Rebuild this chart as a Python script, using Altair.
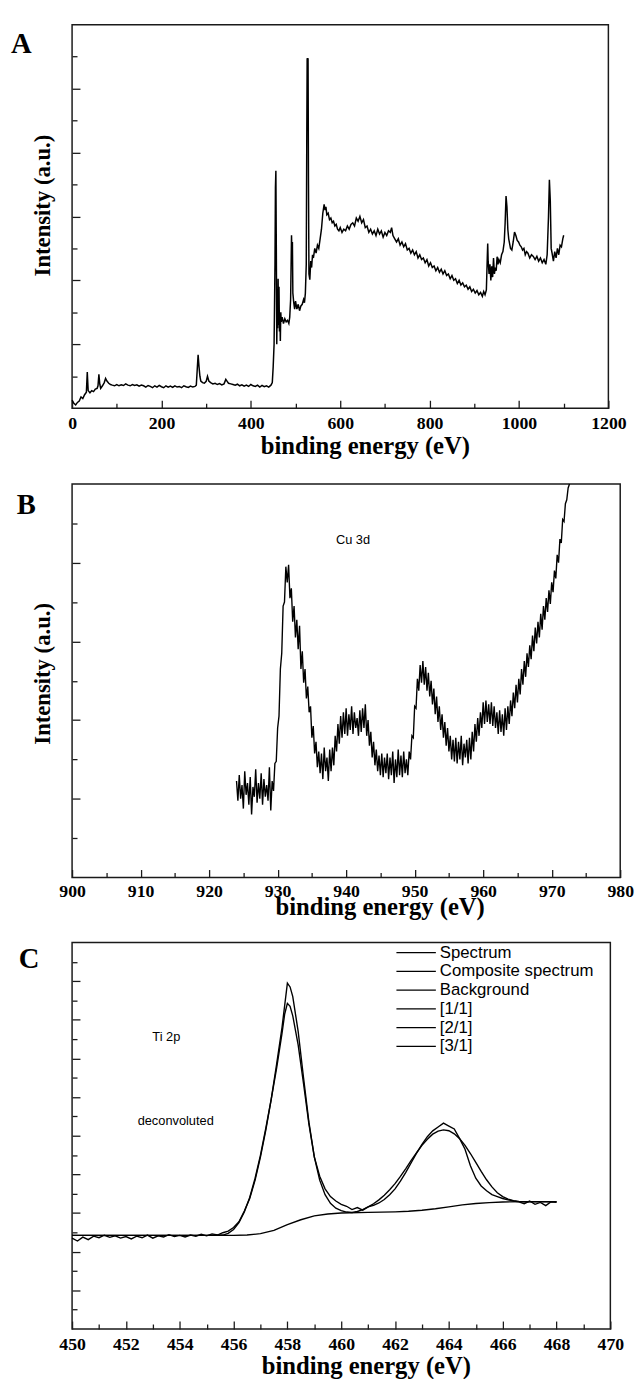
import altair as alt
import pandas as pd

INK = "#1a1a1a"
SERIF = "Liberation Serif"
SANS = "Liberation Sans"

# ---------------- Panel A : survey spectrum ----------------
a_energy = [
    0, 4, 8, 12, 16, 20, 24, 28, 32, 34,
    36, 40, 44, 48, 52, 56, 58, 60, 62, 64,
    68, 72, 75, 78, 82, 86, 90, 95, 100, 105,
    110, 115, 120, 125, 130, 135, 140, 145, 150, 155,
    160, 165, 170, 175, 180, 185, 190, 195, 200, 205,
    210, 215, 220, 225, 230, 235, 240, 245, 250, 255,
    260, 265, 270, 275, 278, 280, 282, 284, 286, 288,
    292, 296, 300, 303, 306, 310, 315, 320, 325, 330,
    335, 340, 344, 347, 350, 355, 360, 365, 370, 375,
    380, 385, 390, 395, 400, 405, 410, 415, 420, 425,
    430, 435, 440, 445, 448, 450, 452, 454, 455, 456,
    457, 458, 459, 460, 461, 462, 463, 464, 465, 466,
    467, 468, 470, 473, 476, 479, 482, 485, 487, 489,
    491, 492, 493, 494, 496, 498, 500, 503, 506, 509,
    512, 515, 518, 520, 522, 524, 525, 526, 527, 528,
    529, 530, 532, 534, 536, 538, 540, 543, 546, 549,
    552, 555, 558, 561, 564, 566, 568, 570, 573, 576,
    579, 582, 585, 588, 591, 594, 597, 600, 604, 608,
    612, 616, 620, 624, 628, 632, 636, 640, 644, 648,
    652, 656, 660, 664, 668, 672, 676, 680, 684, 688,
    692, 696, 700, 704, 708, 712, 715, 718, 722, 726,
    730, 734, 738, 742, 746, 750, 754, 758, 762, 766,
    770, 774, 778, 782, 786, 790, 794, 798, 802, 806,
    810, 814, 818, 822, 826, 830, 834, 838, 842, 846,
    850, 854, 858, 862, 866, 870, 874, 878, 882, 886,
    890, 894, 898, 902, 906, 910, 914, 918, 921, 924,
    927, 929, 930, 931, 933, 935, 937, 939, 941, 943,
    945, 947, 949, 951, 953, 955, 958, 961, 964, 967,
    969, 971, 973, 975, 977, 979, 981, 984, 987, 990,
    993, 996, 999, 1002, 1005, 1008, 1011, 1014, 1017, 1020,
    1024, 1028, 1032, 1036, 1040, 1044, 1048, 1052, 1056, 1060,
    1063, 1066, 1068, 1070, 1072, 1074, 1077, 1080, 1083, 1086,
    1089, 1092, 1095, 1098, 1100,
]
a_intensity = [
    0.25, 0.15, 0.10, 0.18, 0.22, 0.35, 0.30, 0.42, 0.50, 1.13,
    0.55, 0.48, 0.55, 0.52, 0.60, 0.62, 0.70, 1.06, 0.75, 0.62,
    0.70, 0.80, 0.93, 0.85, 0.78, 0.74, 0.72, 0.70, 0.74, 0.70,
    0.73, 0.71, 0.76, 0.72, 0.70, 0.74, 0.71, 0.73, 0.69, 0.72,
    0.70, 0.66, 0.71, 0.68, 0.64, 0.70, 0.66, 0.71, 0.67, 0.64,
    0.70, 0.66, 0.69, 0.65, 0.70, 0.66, 0.68, 0.64, 0.70, 0.67,
    0.65, 0.69, 0.66, 0.68, 0.72, 1.20, 1.67, 1.30, 1.00, 0.85,
    0.80, 0.78, 0.84, 1.00, 0.85, 0.80, 0.76, 0.78, 0.74, 0.77,
    0.73, 0.76, 0.90, 0.84, 0.78, 0.76, 0.74, 0.72, 0.75, 0.70,
    0.73, 0.69, 0.72, 0.68, 0.74, 0.70, 0.68, 0.72, 0.66, 0.71,
    0.67, 0.70, 0.66, 0.72, 0.80, 1.30, 2.00, 4.50, 6.90, 7.43,
    5.00, 2.00, 3.20, 2.50, 4.05, 2.60, 3.80, 2.40, 2.90, 2.10,
    3.00, 2.70, 2.85, 2.65, 2.80, 2.70, 2.75, 2.65, 2.85, 3.40,
    5.41, 4.80, 5.20, 3.60, 3.30, 3.10, 3.35, 3.10, 3.25, 3.05,
    3.20, 3.25, 3.40, 3.30, 3.60, 4.50, 8.00, 10.95, 10.90, 10.95,
    7.00, 4.20, 4.02, 4.60, 4.40, 4.80, 4.70, 5.00, 4.85, 5.10,
    5.00, 5.30, 5.60, 6.10, 6.38, 6.20, 6.30, 6.05, 6.10, 5.90,
    5.95, 5.80, 5.85, 5.70, 5.75, 5.60, 5.55, 5.65, 5.50, 5.60,
    5.55, 5.70, 5.60, 5.75, 5.80, 5.70, 5.95, 5.85, 6.00, 5.80,
    5.90, 5.65, 5.70, 5.50, 5.60, 5.45, 5.55, 5.40, 5.60, 5.45,
    5.55, 5.35, 5.50, 5.40, 5.55, 5.50, 5.65, 5.40, 5.30, 5.20,
    5.30, 5.10, 5.20, 5.05, 5.15, 4.95, 5.00, 4.85, 4.95, 4.80,
    4.90, 4.70, 4.80, 4.65, 4.70, 4.55, 4.65, 4.45, 4.55, 4.40,
    4.45, 4.30, 4.40, 4.25, 4.35, 4.20, 4.30, 4.15, 4.20, 4.05,
    4.15, 4.00, 4.05, 3.90, 4.00, 3.85, 3.92, 3.80, 3.85, 3.72,
    3.80, 3.65, 3.72, 3.60, 3.68, 3.55, 3.62, 3.50, 3.65, 3.55,
    3.70, 4.70, 5.15, 4.60, 4.20, 4.50, 4.00, 4.44, 4.10, 4.70,
    4.20, 4.40, 4.30, 4.74, 4.50, 4.65, 4.55, 4.80, 4.90, 5.20,
    5.80, 6.64, 6.30, 5.60, 5.30, 5.15, 5.00, 4.95, 5.20, 5.51,
    5.40, 5.25, 5.20, 5.10, 5.05, 4.95, 5.00, 4.80, 4.90, 4.85,
    4.70, 4.80, 4.75, 4.65, 4.75, 4.60, 4.70, 4.55, 4.65, 4.50,
    4.80, 6.00, 7.15, 6.50, 5.00, 4.85, 4.60, 4.90, 4.70, 5.00,
    4.80, 5.10, 5.05, 5.30, 5.41,
]
a_x_domain = [0, 1200]
a_y_domain = [0, 12]
a_x_major = [0, 200, 400, 600, 800, 1000, 1200]
a_x_minor = [100, 300, 500, 700, 900, 1100]
a_y_major = [2, 4, 6, 8, 10]
a_y_minor = [1, 3, 5, 7, 9, 11]

# ---------------- Panel B : Cu region ----------------
b_energy = [
    924.0, 924.2, 924.4, 924.6, 924.8, 925.0, 925.2, 925.4, 925.6, 925.8,
    926.0, 926.2, 926.4, 926.6, 926.8, 927.0, 927.2, 927.4, 927.6, 927.8,
    928.0, 928.2, 928.4, 928.6, 928.8, 929.0, 929.2, 929.4, 929.6, 929.8,
    930.0, 930.2, 930.4, 930.6, 930.8, 931.0, 931.2, 931.4, 931.6, 931.8,
    932.0, 932.2, 932.4, 932.6, 932.8, 933.0, 933.2, 933.4, 933.6, 933.8,
    934.0, 934.2, 934.4, 934.6, 934.8, 935.0, 935.2, 935.4, 935.6, 935.8,
    936.0, 936.2, 936.4, 936.6, 936.8, 937.0, 937.2, 937.4, 937.6, 937.8,
    938.0, 938.2, 938.4, 938.6, 938.8, 939.0, 939.2, 939.4, 939.6, 939.8,
    940.0, 940.2, 940.4, 940.6, 940.8, 941.0, 941.2, 941.4, 941.6, 941.8,
    942.0, 942.2, 942.4, 942.6, 942.8, 943.0, 943.2, 943.4, 943.6, 943.8,
    944.0, 944.2, 944.4, 944.6, 944.8, 945.0, 945.2, 945.4, 945.6, 945.8,
    946.0, 946.2, 946.4, 946.6, 946.8, 947.0, 947.2, 947.4, 947.6, 947.8,
    948.0, 948.2, 948.4, 948.6, 948.8, 949.0, 949.2, 949.4, 949.6, 949.8,
    950.0, 950.2, 950.4, 950.6, 950.8, 951.0, 951.2, 951.4, 951.6, 951.8,
    952.0, 952.2, 952.4, 952.6, 952.8, 953.0, 953.2, 953.4, 953.6, 953.8,
    954.0, 954.2, 954.4, 954.6, 954.8, 955.0, 955.2, 955.4, 955.6, 955.8,
    956.0, 956.2, 956.4, 956.6, 956.8, 957.0, 957.2, 957.4, 957.6, 957.8,
    958.0, 958.2, 958.4, 958.6, 958.8, 959.0, 959.2, 959.4, 959.6, 959.8,
    960.0, 960.2, 960.4, 960.6, 960.8, 961.0, 961.2, 961.4, 961.6, 961.8,
    962.0, 962.2, 962.4, 962.6, 962.8, 963.0, 963.2, 963.4, 963.6, 963.8,
    964.0, 964.2, 964.4, 964.6, 964.8, 965.0, 965.2, 965.4, 965.6, 965.8,
    966.0, 966.2, 966.4, 966.6, 966.8, 967.0, 967.2, 967.4, 967.6, 967.8,
    968.0, 968.2, 968.4, 968.6, 968.8, 969.0, 969.2, 969.4, 969.6, 969.8,
    970.0, 970.2, 970.4, 970.6, 970.8, 971.0, 971.2, 971.4, 971.6, 971.8,
    972.0, 972.2, 972.4, 972.6,
]
b_intensity = [
    2.45, 1.95, 2.60, 2.00, 2.35, 1.75, 2.70, 2.10, 2.40, 1.85,
    2.55, 1.60, 2.30, 2.05, 2.75, 1.90, 2.40, 2.00, 2.65, 1.85,
    2.50, 2.05, 2.35, 1.95, 2.80, 1.70, 2.45, 2.20, 2.90, 2.95,
    3.80, 4.10, 5.30, 5.70, 6.90, 7.00, 7.90, 7.50, 7.95, 7.10,
    7.35, 6.50, 6.90, 6.10, 6.55, 5.80, 6.40, 5.30, 5.75, 4.95,
    5.30, 4.55, 4.85, 4.20, 4.35, 3.55, 3.85, 3.15, 3.45, 2.80,
    3.20, 2.65, 3.15, 2.50, 3.30, 2.70, 3.05, 2.45, 3.25, 2.70,
    3.30, 2.85, 3.60, 3.20, 3.90, 3.40, 4.10, 3.55, 4.20, 3.65,
    4.30, 3.60, 4.15, 3.75, 4.35, 3.65, 4.20, 3.80, 4.05, 3.60,
    4.25, 3.70, 4.30, 3.80, 4.40, 3.60, 4.00, 3.35, 3.70, 3.05,
    3.45, 2.85, 3.25, 2.70, 3.10, 2.60, 3.15, 2.55, 3.05, 2.65,
    3.15, 2.50, 3.05, 2.60, 3.20, 2.40, 3.00, 2.55, 3.25, 2.60,
    3.10, 2.55, 3.20, 2.65, 3.00, 2.60, 3.20, 3.00, 3.60, 3.55,
    4.35, 4.30, 5.05, 4.75, 5.40, 4.95, 5.50, 4.90, 5.35, 4.75,
    5.20, 4.60, 5.00, 4.40, 4.80, 4.15, 4.60, 3.95, 4.35, 3.75,
    4.15, 3.55, 3.95, 3.35, 3.80, 3.20, 3.60, 3.00, 3.50, 2.95,
    3.55, 2.90, 3.45, 3.00, 3.60, 2.85, 3.40, 3.05, 3.50, 2.90,
    3.55, 3.00, 3.70, 3.20, 3.90, 3.45, 4.05, 3.60, 4.20, 3.80,
    4.45, 3.90, 4.50, 3.95, 4.40, 3.90, 4.45, 3.85, 4.35, 3.80,
    4.20, 3.65, 4.25, 3.70, 4.15, 3.60, 4.30, 3.75, 4.35, 3.90,
    4.50, 4.10, 4.70, 4.30, 4.90, 4.45, 5.05, 4.65, 5.30, 4.90,
    5.50, 5.10, 5.70, 5.35, 5.90, 5.55, 6.15, 5.75, 6.35, 5.95,
    6.50, 6.10, 6.70, 6.30, 6.90, 6.55, 7.10, 6.75, 7.30, 6.95,
    7.50, 7.25, 7.80, 7.60, 8.20, 8.00, 8.60, 8.50, 9.10, 9.05,
    9.50, 9.60, 9.90, 10.00,
]
b_x_domain = [900, 980]
b_y_domain = [0, 10]
b_x_major = [900, 910, 920, 930, 940, 950, 960, 970, 980]
b_x_minor = [905, 915, 925, 935, 945, 955, 965, 975]
b_y_major = [2, 4, 6, 8]
b_y_minor = [1, 3, 5, 7, 9]
b_note_energy = [941.0]
b_note_intensity = [8.58]
b_note_text = ["Cu 3d"]

# ---------------- Panel C : Ti 2p deconvolution ----------------
c_series_names = ["Spectrum", "Composite spectrum", "Background", "[1/1]", "[2/1]", "[3/1]"]

c_spec_energy = [
    450.0, 450.2, 450.4, 450.6, 450.8, 451.0, 451.2, 451.4, 451.6, 451.8,
    452.0, 452.2, 452.4, 452.6, 452.8, 453.0, 453.2, 453.4, 453.6, 453.8,
    454.0, 454.2, 454.4, 454.6, 454.8, 455.0, 455.2, 455.4, 455.6, 455.8,
    456.0, 456.2, 456.4, 456.6, 456.8, 457.0, 457.2, 457.4, 457.6, 457.8,
    458.0, 458.1, 458.2, 458.4, 458.6, 458.8, 459.0, 459.2, 459.4, 459.6,
    459.8, 460.0, 460.2, 460.4, 460.6, 460.8, 461.0, 461.2, 461.4, 461.6,
    461.8, 462.0, 462.2, 462.4, 462.6, 462.8, 463.0, 463.2, 463.4, 463.6,
    463.8, 464.0, 464.2, 464.4, 464.6, 464.8, 465.0, 465.2, 465.4, 465.6,
    465.8, 466.0, 466.2, 466.4, 466.6, 466.8, 467.0, 467.2, 467.4, 467.6,
    467.8, 468.0,
]
c_spec_intensity = [
    4.70, 4.55, 4.75, 4.62, 4.80, 4.72, 4.85, 4.74, 4.82, 4.70,
    4.78, 4.66, 4.80, 4.72, 4.86, 4.70, 4.82, 4.76, 4.88, 4.78,
    4.84, 4.76, 4.86, 4.80, 4.90, 4.82, 4.92, 4.86, 4.98, 5.06,
    5.25, 5.55, 6.10, 6.75, 7.70, 8.90, 10.30, 11.90, 13.70, 15.60,
    17.90, 17.70, 17.20, 15.40, 13.00, 10.70, 8.90, 7.90, 7.25, 6.85,
    6.62, 6.45, 6.35, 6.18, 6.28, 6.15, 6.32, 6.40, 6.52, 6.70,
    6.95, 7.25, 7.65, 8.10, 8.60, 9.10, 9.55, 9.95, 10.25, 10.45,
    10.65, 10.50, 10.35, 9.85, 9.30, 8.45, 7.80, 7.40, 7.15, 6.95,
    6.85, 6.75, 6.68, 6.62, 6.58, 6.48, 6.62, 6.45, 6.55, 6.38,
    6.58, 6.55,
]
c_comp_energy = [
    450.0, 455.0, 455.6, 455.8, 456.0, 456.2, 456.4, 456.6, 456.8, 457.0,
    457.2, 457.4, 457.6, 457.8, 457.9, 458.0, 458.1, 458.2, 458.4, 458.6,
    458.8, 459.0, 459.2, 459.4, 459.6, 459.8, 460.0, 460.2, 460.4, 460.6,
    460.8, 461.0, 461.2, 461.4, 461.6, 461.8, 462.0, 462.2, 462.4, 462.6,
    462.8, 463.0, 463.2, 463.4, 463.6, 463.8, 464.0, 464.2, 464.4, 464.6,
    464.8, 465.0, 465.2, 465.4, 465.6, 465.8, 466.0, 466.2, 466.4, 466.6,
    466.8, 467.0, 468.0,
]
c_comp_intensity = [
    4.84, 4.84, 4.86, 4.95, 5.15, 5.50, 6.05, 6.80, 7.80, 9.00,
    10.40, 11.90, 13.50, 15.30, 16.30, 16.85, 16.70, 16.20, 14.70, 12.70,
    10.60, 8.90, 7.70, 6.95, 6.50, 6.25, 6.12, 6.05, 6.03, 6.08,
    6.18, 6.32, 6.48, 6.68, 6.92, 7.20, 7.52, 7.90, 8.30, 8.72,
    9.12, 9.50, 9.82, 10.08, 10.24, 10.30, 10.26, 10.10, 9.85, 9.50,
    9.08, 8.62, 8.15, 7.72, 7.35, 7.05, 6.85, 6.72, 6.64, 6.60,
    6.58, 6.58, 6.58,
]
c_bg_energy = [
    450.0, 456.0, 456.5, 457.0, 457.5, 458.0, 458.5, 459.0, 459.5, 460.0,
    461.0, 462.0, 462.5, 463.0, 463.5, 464.0, 464.5, 465.0, 465.5, 466.0,
    467.0, 468.0,
]
c_bg_intensity = [
    4.84, 4.84, 4.86, 4.93, 5.10, 5.40, 5.65, 5.85, 5.95, 6.00,
    6.03, 6.06, 6.09, 6.14, 6.22, 6.32, 6.42, 6.49, 6.54, 6.57,
    6.59, 6.59,
]
c_x_domain = [450, 470]
c_y_domain = [0, 20]
c_x_major = [450, 452, 454, 456, 458, 460, 462, 464, 466, 468, 470]
c_x_minor = [451, 453, 455, 457, 459, 461, 463, 465, 467, 469]
c_y_major = [2, 4, 6, 8, 10, 12, 14, 16, 18]
c_y_minor = [1, 3, 5, 7, 9, 11, 13, 15, 17, 19]
c_note_energy = [453.5, 453.85]
c_note_intensity = [15.12, 10.76]
c_note_text = ["Ti 2p", "deconvoluted"]

assert len(a_energy) == len(a_intensity)
assert len(b_energy) == len(b_intensity)
assert len(c_spec_energy) == len(c_spec_intensity)
assert len(c_comp_energy) == len(c_comp_intensity)
assert len(c_bg_energy) == len(c_bg_intensity)

X_TITLE_SIZE = 25
Y_TITLE_SIZE = 23
LABEL_SIZE = 18


def lin(dom):
    return alt.Scale(domain=dom, nice=False, zero=False)


def x_main(dom, values, title_x, title_y, label_pad=7):
    return alt.X("energy:Q", scale=lin(dom), axis=alt.Axis(
        orient="bottom", values=values, format="d", ticks=False, tickSize=0,
        domain=False, grid=False, labelFont=SERIF, labelFontWeight="bold",
        labelFontSize=LABEL_SIZE, labelColor="black", labelPadding=label_pad,
        labelFlush=False, labelOverlap=False, title="binding energy (eV)",
        titleFont=SERIF, titleFontWeight="bold", titleFontSize=X_TITLE_SIZE,
        titleColor="black", titleX=title_x, titleY=title_y, titleAlign="center",
        titleBaseline="alphabetic"))


def y_main(dom, title=None, title_y=None):
    if title:
        ax = alt.Axis(orient="left", labels=False, ticks=False, tickSize=0,
                      domain=False, grid=False, title=title, titleFont=SERIF,
                      titleFontWeight="bold", titleFontSize=Y_TITLE_SIZE,
                      titleColor="black", titlePadding=18, titleY=title_y)
    else:
        ax = alt.Axis(orient="left", labels=False, ticks=False, tickSize=0,
                      domain=False, grid=False, title=None)
    return alt.Y("intensity:Q", scale=lin(dom), axis=ax)


def tick_layer(df, xdom, ydom, xvals, yvals, size, w, h):
    return alt.Chart(df).mark_point(opacity=0, size=1).encode(
        x=alt.X("energy:Q", scale=lin(xdom), axis=alt.Axis(
            orient="top", offset=-h, values=xvals, tickSize=size, tickWidth=1.3,
            tickColor=INK, labels=False, domain=False, grid=False, title=None)),
        y=alt.Y("intensity:Q", scale=lin(ydom), axis=alt.Axis(
            orient="right", offset=-w, values=yvals, tickSize=size, tickWidth=1.3,
            tickColor=INK, labels=False, domain=False, grid=False, title=None)),
    )


def letter_layer(letter, px, py):
    return alt.Chart(pd.DataFrame({"letter": [letter]})).mark_text(
        font=SERIF, fontWeight="bold", fontSize=29, align="left",
        baseline="alphabetic", color="black").encode(
        x=alt.value(px), y=alt.value(py), text="letter:N")


def note_layer(energy, intensity, text, xdom, ydom):
    df = pd.DataFrame({"energy": energy, "intensity": intensity, "label": text})
    return alt.Chart(df).mark_text(font=SANS, fontSize=13, color="black").encode(
        x=alt.X("energy:Q", scale=lin(xdom), axis=None),
        y=alt.Y("intensity:Q", scale=lin(ydom), axis=None),
        text="label:N")


# ---- Panel A ----
A_W, A_H = 544, 389
df_a = pd.DataFrame({"energy": a_energy, "intensity": a_intensity})
line_a = alt.Chart(df_a).mark_line(color="black", strokeWidth=1.5).encode(
    x=x_main(a_x_domain, a_x_major, 297, 46),
    y=y_main(a_y_domain, "Intensity (a.u.)", 183))
panel_a = alt.layer(
    line_a,
    tick_layer(df_a, a_x_domain, a_y_domain, a_x_major, a_y_major, 8, A_W, A_H),
    tick_layer(df_a, a_x_domain, a_y_domain, a_x_minor, a_y_minor, 5, A_W, A_H),
    letter_layer("A", -62, 29),
).resolve_axis(x="independent", y="independent").properties(width=A_W, height=A_H)

# ---- Panel B ----
B_W, B_H = 556, 399
df_b = pd.DataFrame({"energy": b_energy, "intensity": b_intensity})
line_b = alt.Chart(df_b).mark_line(color="black", strokeWidth=1.4).encode(
    x=x_main(b_x_domain, b_x_major, 312, 38, label_pad=5),
    y=y_main(b_y_domain, "Intensity (a.u.)", 192))
panel_b = alt.layer(
    line_b,
    tick_layer(df_b, b_x_domain, b_y_domain, b_x_major, b_y_major, 8, B_W, B_H),
    tick_layer(df_b, b_x_domain, b_y_domain, b_x_minor, b_y_minor, 5, B_W, B_H),
    note_layer(b_note_energy, b_note_intensity, b_note_text, b_x_domain, b_y_domain),
    letter_layer("B", -56, 30),
).resolve_axis(x="independent", y="independent").properties(width=B_W, height=B_H)

# ---- Panel C ----
C_W, C_H = 546, 392
df_c = pd.concat([
    pd.DataFrame({"energy": c_spec_energy, "intensity": c_spec_intensity,
                  "series": c_series_names[0]}),
    pd.DataFrame({"energy": c_comp_energy, "intensity": c_comp_intensity,
                  "series": c_series_names[1]}),
    pd.DataFrame({"energy": c_bg_energy, "intensity": c_bg_intensity,
                  "series": c_series_names[2]}),
], ignore_index=True)
line_c = alt.Chart(df_c).mark_line(strokeWidth=1.4).encode(
    x=x_main(c_x_domain, c_x_major, 298, 45),
    y=y_main(c_y_domain),
    color=alt.Color("series:N",
                    scale=alt.Scale(domain=c_series_names, range=["black"] * 6),
                    legend=alt.Legend(
                        orient="none", legendX=328, legendY=932, title=None,
                        symbolType="stroke", symbolSize=1600,
                        symbolStrokeWidth=1.3, symbolStrokeColor="black",
                        labelFont=SANS, labelFontSize=17, labelColor="black",
                        labelOffset=3, rowPadding=0, clipHeight=18.7, padding=0)),
)
panel_c = alt.layer(
    line_c,
    tick_layer(df_c, c_x_domain, c_y_domain, c_x_major, c_y_major, 8, C_W, C_H),
    tick_layer(df_c, c_x_domain, c_y_domain, c_x_minor, c_y_minor, 5, C_W, C_H),
    note_layer(c_note_energy, c_note_intensity, c_note_text, c_x_domain, c_y_domain),
    letter_layer("C", -54, 26),
).resolve_axis(x="independent", y="independent").properties(width=C_W, height=C_H)

chart = alt.vconcat(panel_a, panel_b, panel_c, spacing=21).properties(
    padding={"left": 2, "top": 6, "right": 0, "bottom": 0}
).configure_view(stroke=INK, strokeWidth=1.5)

chart.save("out.html", embed_options={"renderer": "svg", "actions": False})
